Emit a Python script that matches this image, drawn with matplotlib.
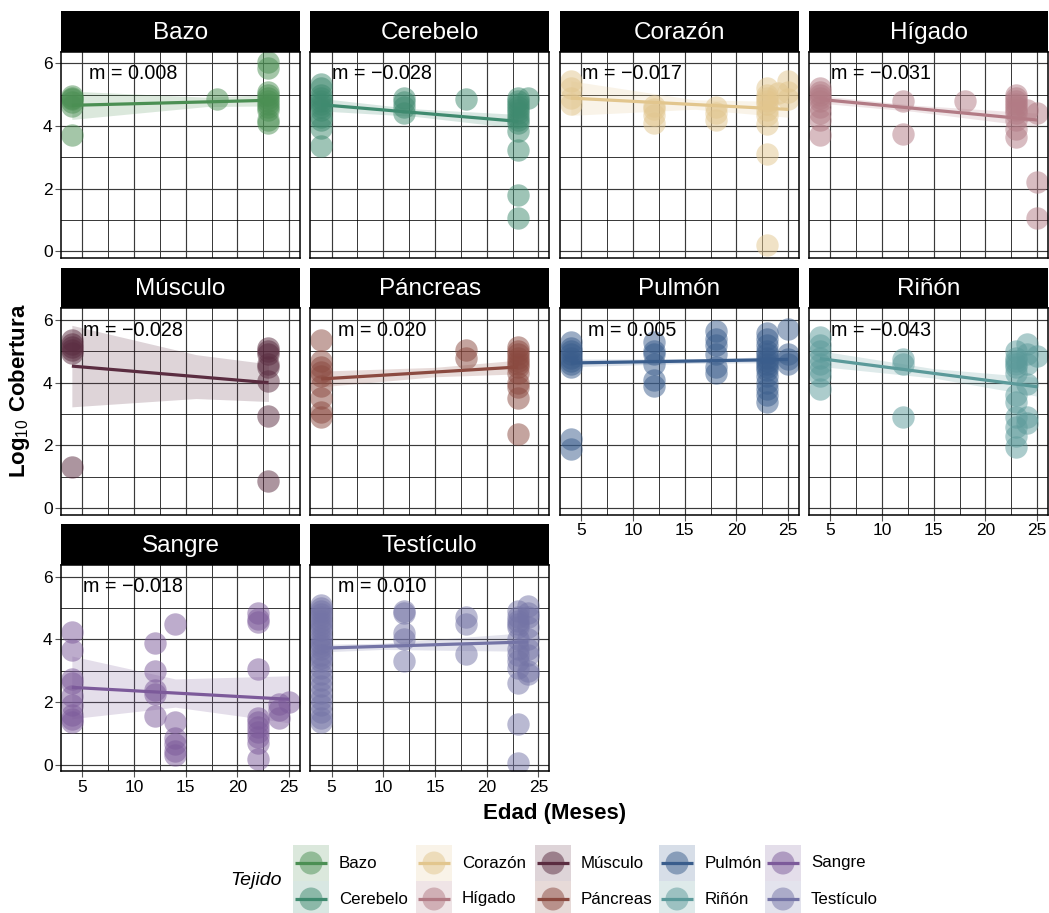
import matplotlib
matplotlib.use("Agg")
import matplotlib.pyplot as plt
from matplotlib.patches import Rectangle, Ellipse
from matplotlib.ticker import MultipleLocator
import numpy as np

plt.rcParams['font.family'] = ['Liberation Sans', 'DejaVu Sans']
plt.rcParams['mathtext.fontset'] = 'custom'
plt.rcParams['mathtext.rm'] = 'Liberation Sans'
plt.rcParams['mathtext.bf'] = 'Liberation Sans:bold'

tejidos = ["Bazo", "Cerebelo", "Corazón", "Hígado", "Músculo",
           "Páncreas", "Pulmón", "Riñón", "Sangre", "Testículo"]
colores = ["#4b8f53", "#3f8a6f", "#e2c68e", "#b27b85", "#5a2c40",
           "#8b4a40", "#3a5d8c", "#5b9a9a", "#7c5a9a", "#7474a6"]
pendientes = ["0.008", "−0.028", "−0.017", "−0.031", "−0.028",
              "0.020", "0.005", "−0.043", "−0.018", "0.010"]

# log10 cobertura por edad (meses)
bazo = {4: [4.95, 4.9, 4.85, 4.75, 4.65, 3.7],
        18: [4.85],
        23: [6.05, 5.85, 5.1, 5.0, 4.9, 4.8, 4.7, 4.6, 4.5, 4.2, 4.1]}
cerebelo = {4: [5.35, 5.2, 5.0, 4.9, 4.8, 4.7, 4.6, 4.5, 4.3, 4.2, 3.95, 3.35],
            12: [4.9, 4.75, 4.6, 4.4],
            18: [4.85],
            23: [4.9, 4.8, 4.7, 4.6, 4.5, 4.4, 4.3, 4.2, 4.1, 3.85, 3.25, 1.8, 1.05],
            24: [4.9]}
corazon = {4: [5.45, 5.2, 4.9, 4.7],
           12: [4.65, 4.55, 4.35, 4.1],
           18: [4.6, 4.4, 4.2],
           23: [5.2, 5.0, 4.9, 4.8, 4.7, 4.5, 4.35, 4.05, 3.1, 0.2],
           24: [5.05],
           25: [5.45, 5.1, 4.85]}
higado = {4: [5.2, 5.1, 5.0, 4.9, 4.8, 4.6, 4.4, 4.2, 3.7],
          12: [4.8, 3.75],
          18: [4.8],
          23: [5.0, 4.9, 4.8, 4.7, 4.6, 4.5, 4.4, 4.2, 3.9, 3.65],
          24: [4.5],
          25: [4.4, 2.2, 1.05]}
musculo = {4: [5.35, 5.25, 5.15, 5.05, 4.95, 1.3],
           23: [5.1, 5.0, 4.9, 4.6, 4.5, 4.05, 2.95, 0.85]}
pancreas = {4: [5.35, 4.7, 4.5, 4.35, 4.2, 3.9, 3.5, 3.05, 2.9],
            18: [5.05, 4.8],
            23: [5.15, 5.0, 4.9, 4.8, 4.7, 4.6, 4.5, 4.3, 4.0, 3.85, 3.5, 2.35]}
pulmon = {4: [5.3, 5.1, 5.0, 4.9, 4.8, 4.7, 4.6, 4.5, 2.2, 1.9],
          12: [5.3, 5.0, 4.9, 4.6, 4.1, 3.9],
          18: [5.65, 5.4, 5.2, 4.9, 4.5, 4.3],
          23: [5.6, 5.4, 5.2, 5.0, 4.9, 4.8, 4.7, 4.6, 4.5, 4.4, 4.2, 4.0,
               3.8, 3.6, 3.4],
          25: [5.7, 4.9, 4.75, 4.6]}
rinon = {4: [5.45, 5.2, 5.0, 4.8, 4.6, 4.4, 4.2, 3.8],
         12: [4.75, 4.6, 2.9],
         23: [5.0, 4.8, 4.7, 4.6, 4.5, 4.3, 3.6, 3.4, 2.9, 2.6, 2.3, 1.95],
         24: [5.25, 4.9, 4.6, 3.95, 2.9, 2.7],
         25: [4.85]}
sangre = {4: [4.25, 3.65, 2.75, 2.6, 2.2, 1.9, 1.6, 1.45, 1.35],
          12: [3.9, 3.0, 2.4, 2.25, 1.55],
          14: [4.5, 1.35, 0.85, 0.65, 0.45, 0.3],
          22: [4.85, 4.65, 4.55, 3.05, 1.5, 1.35, 1.2, 1.05, 0.9, 0.7, 0.2],
          24: [1.95, 1.75, 1.5],
          25: [2.0]}
testiculo = {4: [5.1, 5.0, 4.9, 4.8, 4.7, 4.6, 4.5, 4.4, 4.3, 4.1, 4.0, 3.9,
                 3.8, 3.7, 3.5, 3.4, 3.3, 3.1, 2.9, 2.7, 2.5, 2.3, 2.1, 1.9,
                 1.7, 1.5, 1.35],
             12: [4.9, 4.85, 4.2, 4.0, 3.3],
             18: [4.7, 4.5, 3.55],
             23: [4.9, 4.7, 4.6, 4.5, 4.4, 4.0, 3.7, 3.5, 3.3, 3.1, 2.6, 1.3, 0.05],
             24: [5.05, 4.85, 4.7, 4.4, 4.0, 3.7, 3.5, 3.0, 2.9]}
puntos = [bazo, cerebelo, corazon, higado, musculo,
          pancreas, pulmon, rinon, sangre, testiculo]

# recta ajustada e intervalo de confianza
ajuste_x0 = [4, 4, 4, 4, 4, 4, 4, 4, 4, 4]
ajuste_x1 = [23, 23, 25, 25, 23, 23, 25, 25, 25, 24]
ajuste_y0 = [4.66, 4.68, 4.89, 4.85, 4.53, 4.12, 4.63, 4.77, 2.47, 3.72]
ajuste_y1 = [4.82, 4.15, 4.53, 4.19, 4.00, 4.50, 4.74, 3.87, 2.09, 3.92]
banda_xm = [17, 13, 16, 13, 16, 15, 16, 15, 14, 10]
banda_w0 = [0.45, 0.20, 0.55, 0.12, 1.30, 0.25, 0.12, 0.25, 1.00, 0.12]
banda_wm = [0.15, 0.12, 0.15, 0.10, 0.70, 0.15, 0.07, 0.15, 0.45, 0.10]
banda_w1 = [0.18, 0.22, 0.25, 0.22, 0.60, 0.22, 0.10, 0.30, 0.75, 0.30]

W, H = 1049, 913
fig = plt.figure(figsize=(W / 100, H / 100), dpi=100)


def px_axes(x, y, w, h):
    return fig.add_axes([x / W, 1 - (y + h) / H, w / W, h / H])


col_left = [61, 310.3, 560, 809]
panel_w = 239
row_step = 256.7
strip_h = 40.7
panel_h = 206.3

for i, nombre in enumerate(tejidos):
    r, c = divmod(i, 4)
    top = 11 + r * row_step
    st = px_axes(col_left[c], top, panel_w, strip_h)
    st.set_facecolor("black")
    st.set_xticks([])
    st.set_yticks([])
    for s in st.spines.values():
        s.set_visible(False)
    st.text(0.5, 0.47, nombre, color="white", fontsize=17.5,
            ha="center", va="center", transform=st.transAxes)

    ax = px_axes(col_left[c], top + strip_h, panel_w, panel_h)
    ax.set_xlim(2.95, 26.05)
    ax.set_ylim(-0.21, 6.37)
    ax.xaxis.set_major_locator(MultipleLocator(5))
    ax.xaxis.set_minor_locator(MultipleLocator(2.5))
    ax.yaxis.set_major_locator(MultipleLocator(2))
    ax.yaxis.set_minor_locator(MultipleLocator(1))
    ax.grid(which="major", color="#3a3a3a", linewidth=0.85)
    ax.grid(which="minor", color="black", linewidth=0.55)
    ax.set_axisbelow(True)
    for s in ax.spines.values():
        s.set_color("black")
        s.set_linewidth(1.1)
    ax.tick_params(which="minor", length=0)
    ax.tick_params(which="major", length=4, width=0.8, color="#555555",
                   labelsize=12.5, pad=2)

    col = colores[i]
    xs, ys = [], []
    for edad, vals in puntos[i].items():
        xs += [edad] * len(vals)
        ys += vals
    ax.scatter(xs, ys, s=260, color=col, alpha=0.5, linewidths=0, zorder=2)

    bx = [ajuste_x0[i], banda_xm[i], ajuste_x1[i]]
    by = np.interp(bx, [ajuste_x0[i], ajuste_x1[i]], [ajuste_y0[i], ajuste_y1[i]])
    bw = np.array([banda_w0[i], banda_wm[i], banda_w1[i]])
    ax.fill_between(bx, by - bw, by + bw, color=col, alpha=0.2,
                    linewidth=0, zorder=3)
    ax.plot([ajuste_x0[i], ajuste_x1[i]], [ajuste_y0[i], ajuste_y1[i]],
            color=col, linewidth=2.3, zorder=4, solid_capstyle="butt")

    ax.text(9.9, 5.68, "m = " + pendientes[i], fontsize=14.2,
            ha="center", va="center", zorder=5)

    if c == 0:
        ax.tick_params(axis="y", left=True, labelleft=True)
    else:
        ax.tick_params(axis="y", left=False, labelleft=False)
    if r == 2 or (r == 1 and c >= 2):
        ax.tick_params(axis="x", bottom=True, labelbottom=True)
    else:
        ax.tick_params(axis="x", bottom=False, labelbottom=False)

fig.text(554.5 / W, 1 - 813 / H, "Edad (Meses)", fontsize=16,
         fontweight="bold", ha="center", va="center")
fig.text(20 / W, 1 - 391 / H, r"$\mathbf{Log}_{\mathrm{10}}\ \mathbf{Cobertura}$",
         fontsize=16, rotation=90, ha="center", va="center")

# leyenda
fig.text(256 / W, 1 - 880 / H, "Tejido", fontsize=14, style="italic",
         ha="center", va="center")
key_left = [293, 416, 535, 659, 765]
key_w = 36
key_top = [845, 881]
lg = fig.add_axes([0, 0, 1, 1])
lg.set_xlim(0, W)
lg.set_ylim(H, 0)
lg.axis("off")
lg.patch.set_alpha(0)
for i, nombre in enumerate(tejidos):
    c, r = divmod(i, 2)
    x0 = key_left[c]
    y0 = key_top[r]
    col = colores[i]
    lg.add_patch(Rectangle((x0, y0), key_w, 36, facecolor=col, alpha=0.2,
                           linewidth=0))
    lg.add_patch(Ellipse((x0 + key_w / 2, y0 + 18), 23, 23, facecolor=col,
                         alpha=0.5, linewidth=0))
    lg.plot([x0 + 2, x0 + key_w - 2], [y0 + 18, y0 + 18], color=col,
            linewidth=2.3, solid_capstyle="butt")
    lg.text(x0 + key_w + 10, y0 + 18, nombre, fontsize=12.2,
            ha="left", va="center")

fig.savefig("out.png", dpi=100)
